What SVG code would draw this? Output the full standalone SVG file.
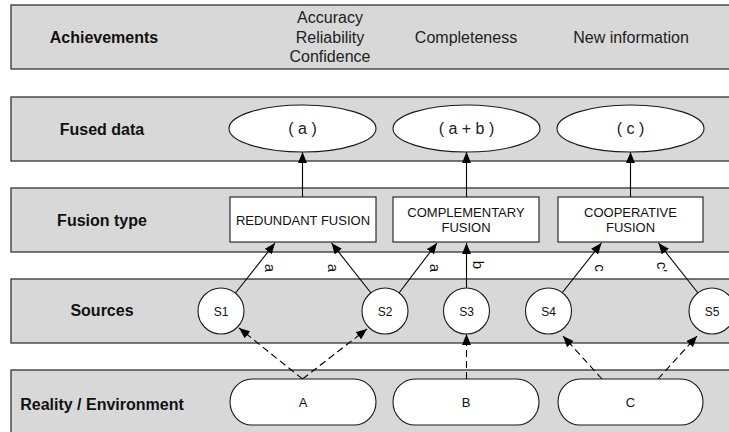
<svg xmlns="http://www.w3.org/2000/svg" width="729" height="432" viewBox="0 0 729 432">
  <style>
    .band { fill: #d8d8d8; stroke: #333333; stroke-width: 1.3; }
    .node { fill: #ffffff; stroke: #1a1a1a; stroke-width: 1.1; }
    .rowlabel { font-family: "Liberation Sans", Arial, sans-serif; font-size: 16px; font-weight: bold; fill: #111; text-anchor: middle; }
    .ach { font-family: "Liberation Sans", Arial, sans-serif; font-size: 16px; fill: #222; text-anchor: middle; }
    .lbl { font-family: "Liberation Sans", Arial, sans-serif; font-size: 13px; fill: #111; text-anchor: middle; }
    .elbl { font-family: "Liberation Sans", Arial, sans-serif; font-size: 15px; fill: #111; text-anchor: middle; dominant-baseline: central; }
    .solid { stroke: #000; stroke-width: 1.1; fill: none; marker-end: url(#head); }
    .dashed { stroke: #000; stroke-width: 1.1; fill: none; stroke-dasharray: 7 4; marker-end: url(#head); }
  </style>
  <defs>
    <marker id="head" markerUnits="userSpaceOnUse" markerWidth="11" markerHeight="9" refX="11" refY="4.5" orient="auto">
      <path d="M0,0 L11,4.5 L0,9 z" fill="#000"/>
    </marker>
  </defs>

  <rect width="729" height="432" fill="#ffffff"/>

  <!-- horizontal layers -->
  <g id="layers">
    <rect class="band" x="11" y="5" width="730" height="64"/>
    <rect class="band" x="11" y="97" width="730" height="64"/>
    <rect class="band" x="11" y="188" width="730" height="64"/>
    <rect class="band" x="11" y="279" width="730" height="64"/>
    <rect class="band" x="11" y="370" width="730" height="70"/>
    <text class="rowlabel" x="104" y="43">Achievements</text>
    <text class="rowlabel" x="102" y="135">Fused data</text>
    <text class="rowlabel" x="102" y="226">Fusion type</text>
    <text class="rowlabel" x="102" y="316">Sources</text>
    <text class="rowlabel" x="102" y="410">Reality / Environment</text>
  </g>

  <!-- achievements per fusion type -->
  <g id="achievements">
    <text class="ach" x="330" y="23">Accuracy</text>
    <text class="ach" x="330" y="42.5">Reliability</text>
    <text class="ach" x="330" y="62">Confidence</text>
    <text class="ach" x="466" y="43">Completeness</text>
    <text class="ach" x="631" y="43">New information</text>
  </g>

  <!-- connectors -->
  <g id="connectors">
    <!-- fusion boxes to fused data -->
    <line class="solid" x1="302.5" y1="197" x2="302.5" y2="152"/>
    <line class="solid" x1="466.5" y1="197" x2="466.5" y2="152"/>
    <line class="solid" x1="630.5" y1="197" x2="630.5" y2="152"/>
    <!-- sources to fusion boxes -->
    <line class="solid" x1="235.5" y1="293" x2="275" y2="243"/>
    <line class="solid" x1="371" y1="293" x2="331.5" y2="243"/>
    <line class="solid" x1="399" y1="293" x2="437" y2="243"/>
    <line class="solid" x1="466.5" y1="288" x2="466.5" y2="243"/>
    <line class="solid" x1="562" y1="293" x2="601.5" y2="243"/>
    <line class="solid" x1="698" y1="293" x2="658.5" y2="243"/>
    <!-- environment to sources -->
    <line class="dashed" x1="302.5" y1="379" x2="239" y2="328"/>
    <line class="dashed" x1="302.5" y1="379" x2="367" y2="329"/>
    <line class="dashed" x1="466.5" y1="379" x2="466.5" y2="334"/>
    <line class="dashed" x1="602" y1="379" x2="563" y2="336"/>
    <line class="dashed" x1="658" y1="379" x2="697" y2="336"/>
    <!-- edge labels -->
    <text class="elbl" transform="translate(270,268) rotate(90)">a</text>
    <text class="elbl" transform="translate(333,268) rotate(90)">a</text>
    <text class="elbl" transform="translate(435,268) rotate(90)">a</text>
    <text class="elbl" transform="translate(478,265) rotate(90)">b</text>
    <text class="elbl" transform="translate(600,268) rotate(90)">c</text>
    <text class="elbl" transform="translate(662,267) rotate(90)">c'</text>
  </g>

  <!-- fused data -->
  <g id="fused-a">
    <ellipse class="node" cx="302.5" cy="128.5" rx="73.5" ry="23.5"/>
    <text class="ach" x="302.5" y="134">( a )</text>
  </g>
  <g id="fused-ab">
    <ellipse class="node" cx="466.5" cy="128.5" rx="73.5" ry="23.5"/>
    <text class="ach" x="466.5" y="134">( a + b )</text>
  </g>
  <g id="fused-c">
    <ellipse class="node" cx="630.5" cy="128.5" rx="73.5" ry="23.5"/>
    <text class="ach" x="630.5" y="134">( c )</text>
  </g>

  <!-- fusion types -->
  <g id="redundant">
    <rect class="node" x="230" y="197" width="146" height="45"/>
    <text class="lbl" x="303" y="225">REDUNDANT FUSION</text>
  </g>
  <g id="complementary">
    <rect class="node" x="393" y="197" width="146" height="45"/>
    <text class="lbl" x="466" y="217">COMPLEMENTARY</text>
    <text class="lbl" x="466" y="232">FUSION</text>
  </g>
  <g id="cooperative">
    <rect class="node" x="558" y="197" width="145" height="45"/>
    <text class="lbl" x="630.5" y="217">COOPERATIVE</text>
    <text class="lbl" x="630.5" y="232">FUSION</text>
  </g>

  <!-- sources -->
  <g id="s1">
    <circle class="node" cx="221" cy="311" r="23"/>
    <text class="lbl" x="221" y="315.5" style="font-size:12px">S1</text>
  </g>
  <g id="s2">
    <circle class="node" cx="385" cy="311" r="23"/>
    <text class="lbl" x="385" y="315.5" style="font-size:12px">S2</text>
  </g>
  <g id="s3">
    <circle class="node" cx="466.5" cy="311" r="23"/>
    <text class="lbl" x="466.5" y="315.5" style="font-size:12px">S3</text>
  </g>
  <g id="s4">
    <circle class="node" cx="548.5" cy="311" r="23"/>
    <text class="lbl" x="548.5" y="315.5" style="font-size:12px">S4</text>
  </g>
  <g id="s5">
    <circle class="node" cx="712" cy="311" r="23"/>
    <text class="lbl" x="712" y="315.5" style="font-size:12px">S5</text>
  </g>

  <!-- reality / environment -->
  <g id="env-a">
    <rect class="node" x="230" y="379" width="146" height="46" rx="22" ry="23"/>
    <text class="lbl" x="303" y="407">A</text>
  </g>
  <g id="env-b">
    <rect class="node" x="393" y="379" width="146" height="46" rx="22" ry="23"/>
    <text class="lbl" x="466" y="407">B</text>
  </g>
  <g id="env-c">
    <rect class="node" x="558" y="379" width="145" height="46" rx="22" ry="23"/>
    <text class="lbl" x="630.5" y="407">C</text>
  </g>
</svg>
